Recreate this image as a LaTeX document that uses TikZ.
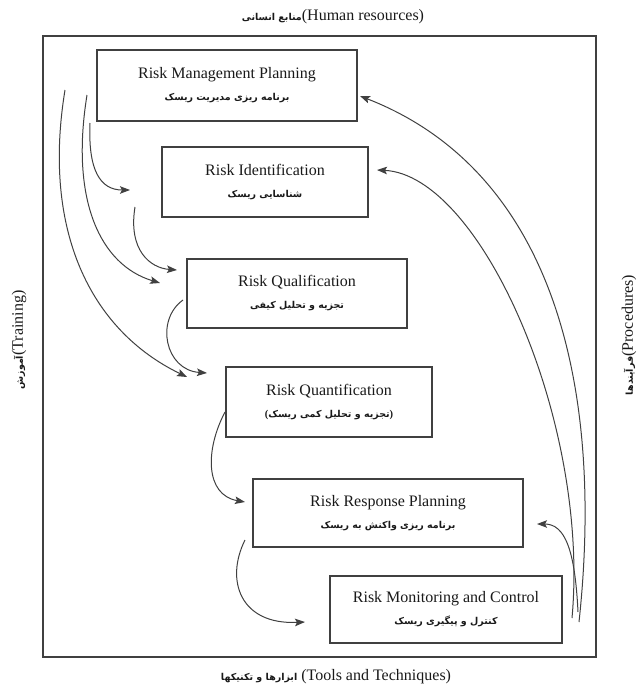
\documentclass[tikz,border=0pt]{standalone}
\usepackage{fontspec}
\setmainfont{Liberation Serif}
\newfontfamily\fa[Script=Arabic]{DejaVu Sans}
\TeXXeTstate=1
\usetikzlibrary{arrows.meta}
\definecolor{linegray}{rgb}{0.25,0.25,0.25}
\definecolor{textgray}{rgb}{0.1,0.1,0.1}
\newcommand{\fatext}[1]{{\fa\bfseries\fontsize{9.5}{22}\selectfont\beginR #1\endR}}

\begin{document}
\begin{tikzpicture}[x=1pt,y=-1pt,
        box/.style={draw=linegray, line width=1.2pt, align=center, inner sep=0pt,
                text=textgray, font=\fontsize{16}{22}\selectfont},
        side/.style={text=textgray, font=\fontsize{16}{18}\selectfont, inner sep=0pt},
        arr/.style={-{Stealth[length=10pt,width=7.5pt,inset=2pt]}, line width=1pt, draw=linegray}]
        \useasboundingbox (0,0) rectangle (638,693);
        \draw[linegray, line width=1.4pt] (43,36) rectangle (596,657);

        \node[side] (hr) at (333,17) {\fatext{منابع انسانی}(Human resources)};
        \node[side] (tt) at (336,677) {\fatext{ابزارها و تکنیکها} (Tools and Techniques)};
        \node[side, rotate=90] (tr) at (19,340) {\fatext{آموزش}(Training)};
        \node[side, rotate=90] (pr) at (629,335) {\fatext{فرآیندها}(Procedures)};

        \node[box, minimum width=260pt, minimum height=71pt] (rmp) at (227,85.5)
                {Risk Management Planning\\\fatext{برنامه ریزی مدیریت ریسک}};
        \node[box, minimum width=206pt, minimum height=70pt] (rid) at (265,182)
                {Risk Identification\\\fatext{شناسایی ریسک}};
        \node[box, minimum width=220pt, minimum height=69pt] (rql) at (297,293.5)
                {Risk Qualification\\\fatext{تجزیه و تحلیل کیفی}};
        \node[box, minimum width=206pt, minimum height=70pt] (rqn) at (329,402)
                {Risk Quantification\\{\bfseries\fontsize{10.5}{22}\selectfont(}\fatext{تجزیه و تحلیل کمی ریسک}{\bfseries\fontsize{10.5}{22}\selectfont)}};
        \node[box, minimum width=270pt, minimum height=68pt] (rrp) at (388,513)
                {Risk Response Planning\\\fatext{برنامه ریزی واکنش به ریسک}};
        \node[box, minimum width=232pt, minimum height=67pt] (rmc) at (446,609.5)
                {Risk Monitoring and Control\\\fatext{کنترل و پیگیری ریسک}};

        \coordinate (s1) at (65,90);
        \coordinate (s2) at (87,95);
        \coordinate (s3) at (90,123);
        \coordinate (s4) at (135,207);
        \coordinate (s5) at (183,300);
        \coordinate (s6) at (225,412);
        \coordinate (s7) at (245,540);
        \coordinate (s8) at (579,622);
        \coordinate (s9) at (572,618);
        \coordinate (s10) at (578,612);
        \coordinate (e1) at (187,377);
        \coordinate (e2) at (160,283);
        \coordinate (e3) at (130,190);
        \coordinate (e4) at (177,270);
        \coordinate (e5) at (207,373);
        \coordinate (e6) at (245,502);
        \coordinate (e7) at (305,622);
        \coordinate (e8) at (360,96);
        \coordinate (e9) at (377,170);
        \coordinate (e10) at (537,524);

        \draw[arr] (s1) .. controls (42,230) and (90,330) .. (e1);
        \draw[arr] (s2) .. controls (70,200) and (100,265) .. (e2);
        \draw[arr] (s3) .. controls (88,170) and (100,190) .. (e3);
        \draw[arr] (s4) .. controls (128,250) and (150,268) .. (e4);
        \draw[arr] (s5) .. controls (155,320) and (165,370) .. (e5);
        \draw[arr] (s6) .. controls (205,450) and (205,495) .. (e6);
        \draw[arr] (s7) .. controls (225,580) and (240,625) .. (e7);
        \draw[arr] (s8) .. controls (605,380) and (550,170) .. (e8);
        \draw[arr] (s9) .. controls (590,420) and (480,175) .. (e9);
        \draw[arr] (s10) .. controls (575,550) and (565,524) .. (e10);
    \end{tikzpicture}
\end{document}
